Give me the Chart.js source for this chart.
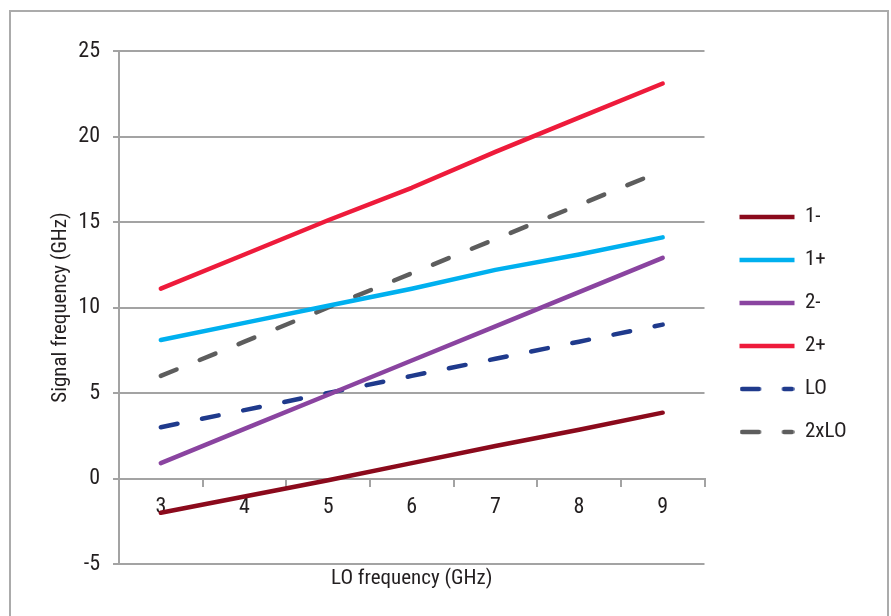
<!DOCTYPE html>
<html>
<head>
<meta charset="utf-8">
<script src="https://cdn.jsdelivr.net/npm/chart.js@4.4.1/dist/chart.umd.min.js"></script>
<style>
  html, body { margin: 0; padding: 0; background: #fff; }
  #wrap { position: relative; width: 891px; height: 616px; overflow: hidden; }
  #frame { position: absolute; left: 9px; top: 10px; width: 880px; height: 640px; border: 2px solid #ababab; box-sizing: border-box; }
  canvas { position: absolute; left: 0; top: 0; }
</style>
</head>
<body>
<div id="wrap">
  <div id="frame"></div>
  <canvas id="linechart" width="891" height="616"></canvas>
</div>
<script>
// LO frequency (GHz) categories
const loFreq = ["3", "4", "5", "6", "7", "8", "9"];

// signal frequencies (GHz)
const minus1 = [-2.0, -1.05, -0.1, 0.9, 1.9, 2.85, 3.85];
const plus1 = [8.1, 9.1, 10.1, 11.1, 12.2, 13.1, 14.1];
const minus2 = [0.9, 2.9, 4.9, 6.9, 8.9, 10.9, 12.9];
const plus2 = [11.1, 13.1, 15.1, 17.0, 19.1, 21.1, 23.1];
const lo = [3, 4, 5, 6, 7, 8, 9];
const lo2x = [6, 8, 10, 12, 14, 16, 18];

const yTicks = { min: -5, max: 25, step: 5 };
const xAxisTitle = "LO frequency (GHz)";
const yAxisTitle = "Signal frequency (GHz)";

const FONT = "'Liberation Sans Narrow', 'Roboto Condensed', Roboto, sans-serif";
const TEXT = "#231f20";
const GRID = "#a3a3a3";
const DASH = [17, 25];
const SAMPLE_W = 55;

Chart.defaults.font.family = FONT;
Chart.defaults.font.size = 21;
Chart.defaults.color = TEXT;

function series(label, data, color, dash) {
  return {
    label: label,
    data: data,
    borderColor: color,
    backgroundColor: color,
    borderWidth: 4.5,
    borderDash: dash || [],
    borderCapStyle: "round",
    borderJoinStyle: "round",
    pointRadius: 0,
    pointHoverRadius: 0,
    pointStyle: "line",
    tension: 0,
    fill: false,
  };
}

// the built-in "line" legend marker closes its path, so dashes come out solid;
// draw dashed samples into a little canvas instead
function dashSample(color, dash) {
  const c = document.createElement("canvas");
  c.width = SAMPLE_W;
  c.height = 8;
  const g = c.getContext("2d");
  g.strokeStyle = color;
  g.lineWidth = 4.5;
  g.lineCap = "round";
  g.setLineDash(dash);
  g.beginPath();
  g.moveTo(2.5, 4);
  g.lineTo(SAMPLE_W - 2.5, 4);
  g.stroke();
  return c;
}

// x axis title sits under the bottom gridline, while the axis itself crosses at y = 0
const xTitle = {
  id: "xTitle",
  afterDraw(chart) {
    const { ctx, chartArea } = chart;
    ctx.save();
    ctx.font = "21px " + FONT;
    ctx.fillStyle = TEXT;
    ctx.textAlign = "center";
    ctx.textBaseline = "middle";
    ctx.fillText(xAxisTitle, (chartArea.left + chartArea.right) / 2, chartArea.bottom + 15);
    ctx.restore();
  },
};

document.addEventListener("DOMContentLoaded", function () {
  const ctx = document.getElementById("linechart").getContext("2d");
  new Chart(ctx, {
    type: "line",
    data: {
      labels: loFreq,
      datasets: [
        series("1-", minus1, "#8b0a1c"),
        series("1+", plus1, "#00b0ef"),
        series("2-", minus2, "#8a44a0"),
        series("2+", plus2, "#ee1b3b"),
        series("LO", lo, "#1f3a8c", DASH),
        series("2xLO", lo2x, "#5d5d5d", DASH),
      ],
    },
    options: {
      responsive: false,
      animation: false,
      layout: { padding: { left: 45, right: 39, top: 51, bottom: 52 } },
      scales: {
        x: {
          type: "category",
          position: { y: 0 },
          offset: true,
          grid: { offset: true, drawOnChartArea: false, drawTicks: true, tickLength: 7, color: GRID, lineWidth: 2 },
          border: { display: true, color: GRID, width: 2 },
          ticks: { padding: 9, color: TEXT, font: { size: 22 } },
        },
        y: {
          min: yTicks.min,
          max: yTicks.max,
          ticks: { stepSize: yTicks.step, padding: 13, color: TEXT, font: { size: 22 } },
          grid: { color: GRID, lineWidth: 2, tickLength: 6 },
          border: { display: true, color: GRID, width: 2 },
          title: { display: true, text: yAxisTitle, color: TEXT, padding: { top: 3, bottom: 0 } },
          afterFit(s) { s.width = 74; },
        },
        gap: {
          type: "linear",
          position: "right",
          display: true,
          grid: { display: false },
          ticks: { display: false },
          border: { display: false },
          afterFit(s) { s.width = 13; },
        },
      },
      plugins: {
        legend: {
          position: "right",
          fullSize: false,
          align: "center",
          title: { display: true, text: " ", font: { size: 10 }, padding: { top: 11, bottom: 11 } },
          labels: {
            usePointStyle: true,
            pointStyleWidth: SAMPLE_W,
            padding: 22,
            color: TEXT,
            generateLabels(chart) {
              const items = Chart.defaults.plugins.legend.labels.generateLabels(chart);
              items.forEach(function (it) {
                const ds = chart.data.datasets[it.datasetIndex];
                if (ds.borderDash && ds.borderDash.length) {
                  it.pointStyle = dashSample(ds.borderColor, ds.borderDash);
                }
              });
              return items;
            },
          },
        },
        tooltip: { enabled: false },
      },
    },
    plugins: [xTitle],
  });
});
</script>
</body>
</html>
